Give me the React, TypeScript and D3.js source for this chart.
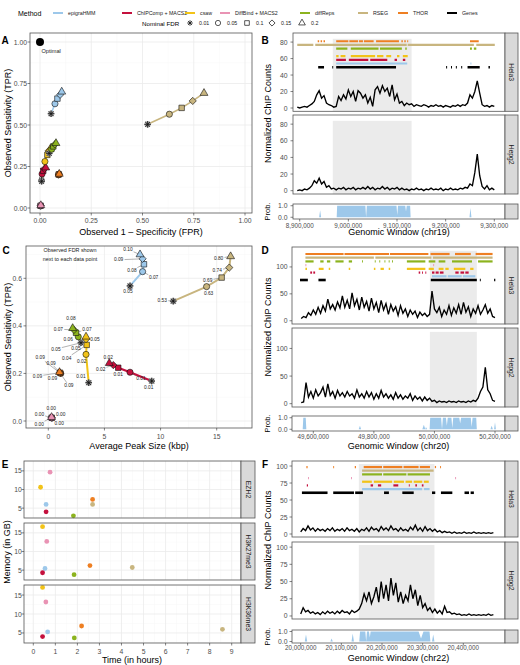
import React from 'react';
import * as d3 from 'd3';

const FONT = "'Liberation Sans', Arial, Helvetica, sans-serif";
const TICK_COL = '#4d4d4d';
const BORDER = '#555555';
const GRID_MAJ = '#ebebeb';
const GRID_MIN = '#f6f6f6';
const STRIP_FILL = '#d9d9d9';

// ---------- methods / legend ----------
const methodNames = ['epigraHMM', 'ChIPComp + MACS2', 'csaw', 'DiffBind + MACS2', 'diffReps', 'RSEG', 'THOR'];
const methodColors = ['#9dc8ea', '#c4103d', '#f2c318', '#e993b4', '#8cb31e', '#c8b57f', '#ee7f22'];
const fdrNominal = ['0.01', '0.05', '0.1', '0.15', '0.2'];
const fdrShapes = ['star', 'circle', 'square', 'diamond', 'triangle'];

// ---------- Panel A / C data (index = nominal FDR level) ----------
const fprByMethod = [
  [0.054, 0.073, 0.085, 0.098, 0.106],
  [0.008, 0.010, 0.016, 0.021, 0.028],
  [0.008, 0.024, 0.036, 0.042, 0.049],
  [0.002, 0.003, 0.003, 0.004, 0.004],
  [0.045, 0.057, 0.065, 0.072, 0.078],
  [0.525, 0.631, 0.691, 0.745, 0.800],
  [0.090, 0.091, 0.092, 0.093, 0.094],
];
const tprByMethod = [
  [0.568, 0.628, 0.659, 0.682, 0.700],
  [0.168, 0.205, 0.224, 0.235, 0.243],
  [0.161, 0.280, 0.320, 0.344, 0.354],
  [0.012, 0.013, 0.014, 0.015, 0.016],
  [0.329, 0.354, 0.371, 0.383, 0.390],
  [0.504, 0.565, 0.603, 0.645, 0.692],
  [0.199, 0.201, 0.203, 0.204, 0.205],
];
const peakSizeByMethod = [
  [7.28, 8.40, 8.52, 8.40, 8.17],
  [9.21, 7.28, 6.23, 5.79, 5.43],
  [3.60, 3.36, 3.42, 3.36, 3.36],
  [0.32, 0.31, 0.30, 0.30, 0.29],
  [2.91, 2.67, 2.47, 2.29, 2.17],
  [11.13, 14.10, 15.44, 16.12, 16.24],
  [1.12, 1.08, 1.05, 1.02, 1.00],
];
const observedFdrByMethod = [
  ['0.05', '0.07', '0.08', '0.09', '0.10'],
  ['0.01', '0.01', '0.01', '0.02', '0.02'],
  ['0.01', '0.02', '0.04', '0.05', '0.05'],
  ['0.00', '0.00', '0.00', '0.00', '0.00'],
  ['0.05', '0.06', '0.07', '0.07', '0.08'],
  ['0.53', '0.63', '0.69', '0.74', '0.80'],
  ['0.09', '0.09', '0.09', '0.09', '0.09'],
];
// layout: label offsets (px) for panel C
const fdrLabelOffsets = [
  [[-2, 6], [11, 6], [-12, 6], [-24, 1], [-12, -5]],
  [[-3, 6.3], [11, 6.7], [0, 6.6], [-12.6, 4], [-1, -6]],
  [[-7.7, -6], [-4.3, 7.4], [-20, 13.3], [-10, 9.4], [9, 2.3]],
  [[-0.7, -10], [-12.4, -3.7], [9, -2.7], [-12.4, 6.6], [7.6, 6.6]],
  [[-25, 6.3], [-10, 2.6], [11, -3.7], [-15.7, -0.7], [-1.7, -9.3]],
  [[-11, -1], [2, 7], [-14, 3], [-12, 3], [-12, 2]],
  [[-20.7, -16], [-9.3, -10], [-22.7, 3.4], [-7.3, 6], [9.3, 13.4]],
];

// ---------- Panel E data ----------
const facetNames = ['EZH2', 'H3K27me3', 'H3K36me3'];
const timeHours = [
  [0.58, 0.53, 0.65],
  [0.58, 0.42, 0.42],
  [0.33, 0.42, 0.42],
  [0.76, 0.61, 0.57],
  [1.82, 1.85, 1.86],
  [2.69, 4.49, 8.58],
  [2.69, 2.57, 2.19],
];
const memoryGB = [
  [6.0, 5.44, 5.26],
  [4.0, 4.3, 4.04],
  [10.6, 16.67, 17.0],
  [14.64, 12.7, 13.16],
  [2.93, 3.77, 3.68],
  [6.0, 5.7, 5.96],
  [7.34, 6.23, 6.84],
];

// ---------- Genomic windows (positions in kb) ----------
const signalB_Hela3 = [1, 0, 1, 2, 1, 3, 5, 8, 16, 21, 12, 15, 6, 4, 3, 1, 2, 14, 9, 16, 11, 22, 14, 20, 8, 21, 18, 12, 16, 6, 13, 2, 22, 26, 18, 27, 20, 24, 14, 28, 10, 17, 6, 8, 3, 6, 4, 5, 2, 4, 3, 2, 4, 3, 1, 3, 2, 4, 2, 3, 1, 3, 2, 1, 3, 2, 4, 2, 4, 3, 6, 16, 12, 20, 33, 18, 4, 2, 3, 1, 3, 2];
const signalB_Hepg2 = [0, 1, 0, 2, 1, 3, 6, 12, 9, 15, 8, 11, 4, 6, 2, 3, 1, 3, 2, 4, 1, 3, 2, 4, 1, 3, 2, 4, 2, 5, 2, 4, 1, 3, 2, 5, 2, 4, 1, 3, 2, 4, 1, 3, 1, 2, 0, 2, 1, 3, 1, 2, 0, 2, 1, 3, 1, 2, 1, 3, 0, 2, 1, 3, 1, 2, 1, 3, 2, 4, 3, 8, 6, 22, 44, 18, 5, 2, 6, 1, 3, 1];
const signalD_Hela3 = [4, 8, 6, 15, 10, 20, 12, 25, 14, 28, 18, 40, 22, 30, 20, 35, 24, 46, 25, 38, 22, 52, 28, 40, 20, 44, 25, 36, 18, 42, 22, 34, 15, 38, 20, 32, 12, 30, 18, 26, 10, 28, 14, 22, 8, 20, 12, 18, 6, 16, 10, 14, 8, 12, 55, 22, 15, 25, 8, 20, 12, 28, 10, 24, 14, 30, 12, 34, 16, 26, 8, 22, 14, 28, 12, 20, 30, 14, 22, 8, 6];
const signalD_Hepg2 = [2, 3, 38, 12, 22, 10, 25, 14, 20, 30, 12, 36, 15, 22, 10, 24, 14, 20, 12, 22, 14, 18, 10, 25, 12, 18, 10, 22, 12, 20, 8, 18, 10, 24, 12, 18, 10, 16, 8, 20, 10, 16, 8, 14, 10, 18, 6, 14, 8, 12, 5, 12, 6, 10, 4, 6, 2, 5, 3, 4, 2, 5, 3, 4, 2, 5, 3, 4, 2, 5, 3, 6, 4, 10, 22, 30, 66, 25, 18, 6, 4];
const signalF_Hela3 = [3, 8, 5, 12, 6, 9, 4, 8, 5, 7, 4, 8, 5, 9, 4, 7, 5, 8, 4, 9, 5, 7, 4, 8, 3, 7, 5, 9, 4, 10, 6, 8, 4, 11, 6, 9, 5, 12, 6, 8, 4, 9, 5, 7, 4, 10, 6, 13, 5, 9, 4, 11, 5, 8, 4, 7, 3, 5, 2, 4, 2, 3, 1, 3, 1, 2, 1, 3, 1, 2, 1, 3, 1, 2, 1, 2, 1, 2, 1, 2];
const signalF_Hepg2 = [3, 12, 6, 8, 4, 6, 3, 5, 2, 6, 3, 7, 4, 6, 3, 7, 4, 8, 5, 6, 3, 8, 5, 7, 10, 18, 32, 22, 35, 18, 28, 42, 20, 50, 25, 45, 22, 55, 30, 48, 20, 35, 18, 30, 22, 45, 25, 38, 15, 30, 12, 18, 8, 12, 5, 10, 4, 8, 3, 14, 5, 6, 3, 4, 2, 3, 1, 2, 1, 3, 1, 2, 1, 2, 1, 2, 1, 3, 1, 2];

const peaksB = [
  [[8975, 9121], [9251, 9252]],
  [[8975, 8995], [9001, 9041], [9045, 9080], [9095, 9100], [9112, 9117]],
  [[8975, 8980], [8984, 8994], [9005, 9055], [9059, 9072], [9078, 9088], [9100, 9105], [9112, 9122]],
  [],
  [[8975, 8998], [9005, 9062], [9065, 9110], [9117, 9120], [9250, 9254], [9258, 9263]],
  [[8895, 8928], [8932, 9120], [9122, 9258], [9263, 9301]],
  [[8937, 8940], [8943, 8946], [8949, 8952], [8975, 9000], [9002, 9020], [9022, 9030], [9032, 9052], [9057, 9104], [9109, 9112], [9115, 9118], [9121, 9123], [9250, 9268]],
];
const genesB = [[8938, 8950], [8967, 8968], [8975, 9098], [9201, 9203], [9211, 9213], [9221, 9223], [9232, 9234], [9245, 9270], [9288, 9291]];
const peaksD = [
  [[49992, 50040], [50044, 50090], [50094, 50135]],
  [[49590, 49596], [49600, 49606], [49948, 49953], [49959, 49962], [49970, 49973], [49992, 50000], [50004, 50014], [50018, 50030], [50069, 50080], [50086, 50098], [50102, 50113]],
  [[49574, 49579], [49618, 49634], [49651, 49656], [49717, 49722], [49800, 49805], [49822, 49833], [49849, 49854], [49909, 49970], [49981, 49998], [50014, 50030], [50036, 50047], [50064, 50102], [50118, 50129]],
  [[49574, 49577], [49996, 49998]],
  [[49574, 49601], [49623, 49634], [49645, 49656], [49673, 49700], [49717, 49728], [49761, 49764], [49803, 49806], [49818, 49821], [49835, 49838], [49849, 49852], [49860, 49863], [49909, 49970], [49981, 50003], [50014, 50036], [50058, 50124], [50144, 50192]],
  [[49574, 49800], [49805, 49990], [49995, 50192]],
  [[49574, 49700], [49703, 49850], [49853, 49980], [49987, 50050], [50068, 50120], [50136, 50192]],
];
const genesD = [[49556, 49582], [49617, 49641], [49988, 50140], [50150, 50153], [50197, 50201]];
const peaksF = [
  [[20151, 20299], [20303, 20317]],
  [[20015, 20018], [20172, 20178], [20190, 20198], [20228, 20240], [20266, 20268], [20282, 20286], [20298, 20302]],
  [[20151, 20175], [20180, 20225], [20229, 20254], [20258, 20274], [20278, 20299], [20303, 20315]],
  [[20018, 20020], [20124, 20126], [20380, 20382]],
  [[20151, 20200], [20203, 20260], [20263, 20318]],
  [[20151, 20327]],
  [[20014, 20017], [20080, 20082], [20133, 20136], [20155, 20200], [20203, 20250], [20253, 20290], [20293, 20318], [20330, 20333], [20343, 20345]],
];
const genesF = [[20003, 20066], [20080, 20131], [20134, 20153], [20205, 20217], [20250, 20278], [20323, 20331], [20345, 20373], [20403, 20414], [20418, 20426]];

const probPosB = [8895, 8940, 8942, 8944, 8976, 8977, 9035, 9036.5, 9038, 9099, 9100.5, 9102, 9117, 9118.5, 9120, 9127, 9128, 9249, 9251, 9253, 9301];
const probValB = [0, 0, 0.6, 0, 0, 1, 1, 0, 1, 1, 0.2, 1, 1, 0.5, 1, 1, 0, 0, 0.8, 0, 0];
const probPosD = [49560, 49565, 49567, 49575, 49577, 49750, 49754, 49758, 49960, 49965, 49970, 49972, 49976, 49984, 49986, 50022, 50025, 50028, 50038, 50041, 50044, 50056, 50059, 50062, 50082, 50085, 50088, 50120, 50123, 50126, 50138, 50140, 50185, 50189, 50193, 50197, 50200, 50203];
const probValD = [0, 0, 1, 1, 0, 0, 0.3, 0, 0, 0.4, 0, 0.2, 0, 0, 1, 1, 0, 1, 1, 0.3, 1, 1, 0.1, 1, 1, 0.5, 1, 1, 0.2, 1, 1, 0, 0, 0.3, 0, 0, 0.6, 0];
const probPosF = [20000, 20010, 20013, 20016, 20073, 20076, 20079, 20125, 20128, 20131, 20144, 20146, 20159, 20161, 20163, 20168, 20170, 20172, 20290, 20296, 20302, 20317, 20319, 20323, 20326, 20329, 20478];
const probValF = [0, 0, 0.7, 0, 0, 0.3, 0, 0, 0.8, 0, 0, 1, 1, 0, 1, 1, 0.4, 1, 1, 0.3, 1, 1, 0, 0, 0.7, 0, 0];

const genomeTicksB = [8900, 9000, 9100, 9200, 9300];
const genomeTicksD = [49600, 49800, 50000, 50200];
const genomeTicksF = [20000, 20100, 20200, 20300, 20400];

// ---------- helpers ----------
function Marker({ kind, x, y, fill, hollow = false, k = 1 }: any) {
  const t = `translate(${x},${y})`;
  if (kind === 'star') {
    const r = 3.3 * k, d = r * 0.72;
    const p = `M${-r},0L${r},0M0,${-r}L0,${r}M${-d},${-d}L${d},${d}M${-d},${d}L${d},${-d}`;
    return (
      <g transform={t}>
        {!hollow && <path d={p} stroke="#9a9a9a" strokeWidth={1.8} />}
        <path d={p} stroke="#111" strokeWidth={0.8} />
      </g>
    );
  }
  let type: any = d3.symbolCircle, size = 30, rot = 0;
  if (kind === 'square') { type = d3.symbolSquare; size = 30; }
  if (kind === 'diamond') { type = d3.symbolSquare; size = 26; rot = 45; }
  if (kind === 'triangle') { type = d3.symbolTriangle; size = 27; }
  const p = d3.symbol(type, size * k * k)() as string;
  return (
    <path d={p} transform={`${t} rotate(${rot})`} fill={hollow ? 'none' : fill}
      stroke="#111" strokeWidth={hollow ? 0.7 : 0.6} />
  );
}

function Txt({ x, y, children, size = 7, anchor = 'middle', color = TICK_COL, rotate = 0, weight = 'normal' }: any) {
  return (
    <text x={0} y={0} transform={`translate(${x},${y}) rotate(${rotate})`} fontSize={size} textAnchor={anchor}
      dominantBaseline="central" fill={color} fontFamily={FONT} fontWeight={weight}>{children}</text>
  );
}

function Box({ x0, x1, y0, y1 }: any) {
  return <rect x={x0} y={y0} width={x1 - x0} height={y1 - y0} fill="none" stroke={BORDER} strokeWidth={0.8} />;
}

function Strip({ x0, x1, y0, y1, label }: any) {
  return (
    <g>
      <rect x={x0} y={y0} width={x1 - x0} height={y1 - y0} fill={STRIP_FILL} stroke={BORDER} strokeWidth={0.8} />
      {label && <Txt x={(x0 + x1) / 2} y={(y0 + y1) / 2} rotate={90} size={6.8} color="#1a1a1a">{label}</Txt>}
    </g>
  );
}

function Legend() {
  const swX = [53, 122, 185, 220, 300, 358, 398, 447];
  const labels = [...methodNames, 'Genes'];
  const cols = [...methodColors, '#000'];
  const shX = [190, 218, 247, 272, 302];
  return (
    <g>
      <Txt x={18} y={13} anchor="start" size={7} color="#000">Method</Txt>
      {labels.map((l, i) => (
        <g key={l}>
          <line x1={swX[i]} x2={swX[i] + 10} y1={13} y2={13} stroke={cols[i]} strokeWidth={2} />
          <Txt x={swX[i] + 15} y={13} anchor="start" size={5.3} color="#222">{l}</Txt>
        </g>
      ))}
      <Txt x={142} y={23} anchor="start" size={6.2} color="#000">Nominal FDR</Txt>
      {fdrNominal.map((f, i) => (
        <g key={f}>
          <Marker kind={fdrShapes[i]} x={shX[i]} y={23} hollow k={0.85} />
          <Txt x={shX[i] + 9} y={23} anchor="start" size={5.3} color="#222">{f}</Txt>
        </g>
      ))}
    </g>
  );
}

function gridLines(scale: any, values: number[], orient: 'v' | 'h', a: number, b: number, col: string, w: number) {
  return values.map((v, i) => orient === 'v'
    ? <line key={`${orient}${i}${col}`} x1={scale(v)} x2={scale(v)} y1={a} y2={b} stroke={col} strokeWidth={w} />
    : <line key={`${orient}${i}${col}`} y1={scale(v)} y2={scale(v)} x1={a} x2={b} stroke={col} strokeWidth={w} />);
}

function PanelA() {
  const box = { x0: 30, x1: 252, y0: 33, y1: 213 };
  const x = d3.scaleLinear().domain([0, 1]).range([40, 245]);
  const y = d3.scaleLinear().domain([0, 1]).range([208, 42]);
  const ticks = [0, 0.25, 0.5, 0.75, 1];
  const minor = [0.125, 0.375, 0.625, 0.875];
  const fmt = d3.format('.2f');
  return (
    <g>
      <rect x={box.x0} y={box.y0} width={box.x1 - box.x0} height={box.y1 - box.y0} fill="#fff" />
      {gridLines(x, minor, 'v', box.y0, box.y1, GRID_MIN, 0.5)}
      {gridLines(y, minor, 'h', box.x0, box.x1, GRID_MIN, 0.5)}
      {gridLines(x, ticks, 'v', box.y0, box.y1, GRID_MAJ, 0.8)}
      {gridLines(y, ticks, 'h', box.x0, box.x1, GRID_MAJ, 0.8)}
      {methodNames.map((m, mi) => {
        const pts = fprByMethod[mi].map((f, i) => [x(f), y(tprByMethod[mi][i])] as [number, number]);
        return <path key={m} d={d3.line()(pts) as string} stroke={methodColors[mi]} strokeWidth={1.6} fill="none" />;
      })}
      {methodNames.map((m, mi) => fprByMethod[mi].map((f, i) => (
        <Marker key={`${m}${i}`} kind={fdrShapes[i]} x={x(f)} y={y(tprByMethod[mi][i])} fill={methodColors[mi]} />
      )))}
      <circle cx={x(0)} cy={y(1)} r={4} fill="#000" />
      <Txt x={x(0) + 1.5} y={y(1) + 9} anchor="start" size={5.6} color="#222">Optimal</Txt>
      <Box {...box} />
      {ticks.map(t => (
        <g key={t}>
          <line x1={x(t)} x2={x(t)} y1={box.y1} y2={box.y1 + 2.5} stroke="#333" strokeWidth={0.6} />
          <Txt x={x(t)} y={220.7} size={6.8}>{fmt(t)}</Txt>
          <line y1={y(t)} y2={y(t)} x1={box.x0 - 2.5} x2={box.x0} stroke="#333" strokeWidth={0.6} />
          <Txt x={27} y={y(t)} anchor="end" size={6.8}>{fmt(t)}</Txt>
        </g>
      ))}
      <Txt x={141} y={232} size={9} color="#000">Observed 1 – Specificity (FPR)</Txt>
      <Txt x={7.5} y={123} rotate={-90} size={9} color="#000">Observed Sensitivity (TPR)</Txt>
      <Txt x={5} y={40} size={10} weight="bold" color="#000">A</Txt>
    </g>
  );
}

function PanelC() {
  const box = { x0: 26, x1: 252, y0: 246, y1: 428 };
  const x = d3.scaleLinear().domain([0, 15]).range([48.3, 216.7]);
  const y = d3.scaleLinear().domain([0, 0.6]).range([421, 278.3]);
  const xt = [0, 5, 10, 15], xm = [2.5, 7.5, 12.5, 17.5];
  const yt = [0, 0.2, 0.4, 0.6], ym = [0.1, 0.3, 0.5, 0.7];
  return (
    <g>
      <rect x={box.x0} y={box.y0} width={box.x1 - box.x0} height={box.y1 - box.y0} fill="#fff" />
      <clipPath id="clipC"><rect x={box.x0} y={box.y0} width={box.x1 - box.x0} height={box.y1 - box.y0} /></clipPath>
      <g clipPath="url(#clipC)">
        {gridLines(x, xm, 'v', box.y0, box.y1, GRID_MIN, 0.5)}
        {gridLines(y, ym, 'h', box.x0, box.x1, GRID_MIN, 0.5)}
        {gridLines(x, xt, 'v', box.y0, box.y1, GRID_MAJ, 0.8)}
        {gridLines(y, yt, 'h', box.x0, box.x1, GRID_MAJ, 0.8)}
      </g>
      {methodNames.map((m, mi) => {
        const pts = peakSizeByMethod[mi].map((s, i) => [x(s), y(tprByMethod[mi][i])] as [number, number]);
        return <path key={m} d={d3.line()(pts) as string} stroke={methodColors[mi]} strokeWidth={2} fill="none" />;
      })}
      {methodNames.map((m, mi) => peakSizeByMethod[mi].map((s, i) => {
        const px = x(s), py = y(tprByMethod[mi][i]);
        const [dx, dy] = fdrLabelOffsets[mi][i];
        const dist = Math.hypot(dx, dy);
        let leader = null;
        if (dist > 11) {
          const ux = dx / dist, uy = dy / dist;
          const stop = Math.abs(dx) > Math.abs(dy) ? 6 : 3.5;
          leader = <line x1={px} y1={py} x2={px + dx - ux * stop} y2={py + dy - uy * stop} stroke="#555" strokeWidth={0.45} />;
        }
        return <g key={`${m}l${i}`}>{leader}</g>;
      }))}
      {methodNames.map((m, mi) => peakSizeByMethod[mi].map((s, i) => (
        <Marker key={`${m}${i}`} kind={fdrShapes[i]} x={x(s)} y={y(tprByMethod[mi][i])} fill={methodColors[mi]} />
      )))}
      {methodNames.map((m, mi) => peakSizeByMethod[mi].map((s, i) => {
        const [dx, dy] = fdrLabelOffsets[mi][i];
        return <Txt key={`${m}t${i}`} x={x(s) + dx} y={y(tprByMethod[mi][i]) + dy} size={4.8} color="#222">{observedFdrByMethod[mi][i]}</Txt>;
      }))}
      <Txt x={70} y={250} size={5.4} color="#222">Observed FDR shown</Txt>
      <Txt x={70} y={258.5} size={5.4} color="#222">next to each data point</Txt>
      <Box {...box} />
      {xt.map(t => (
        <g key={t}>
          <line x1={x(t)} x2={x(t)} y1={box.y1} y2={box.y1 + 2.5} stroke="#333" strokeWidth={0.6} />
          <Txt x={x(t)} y={436} size={6.8}>{t}</Txt>
        </g>
      ))}
      {yt.map(t => (
        <g key={t}>
          <line y1={y(t)} y2={y(t)} x1={box.x0 - 2.5} x2={box.x0} stroke="#333" strokeWidth={0.6} />
          <Txt x={22} y={y(t)} anchor="end" size={6.8}>{d3.format('.1f')(t)}</Txt>
        </g>
      ))}
      <Txt x={139} y={446} size={9} color="#000">Average Peak Size (kbp)</Txt>
      <Txt x={7.5} y={337} rotate={-90} size={9} color="#000">Observed Sensitivity (TPR)</Txt>
      <Txt x={6} y={250} size={10} weight="bold" color="#000">C</Txt>
    </g>
  );
}

function PanelE() {
  const x0 = 24, x1 = 241;
  const facetY = [[461, 518], [523, 580], [585, 643]];
  const x = d3.scaleLinear().domain([0, 9]).range([33.3, 231.7]);
  const xt = d3.range(0, 10);
  const xm = d3.range(0, 10).map(v => v + 0.5).concat([-0.5]);
  return (
    <g>
      {facetNames.map((f, fi) => {
        const [y0, y1] = facetY[fi];
        const y = d3.scaleLinear().domain([2.35, 17.65]).range([y1, y0]);
        return (
          <g key={f}>
            <rect x={x0} y={y0} width={x1 - x0} height={y1 - y0} fill="#fff" />
            <clipPath id={`clipE${fi}`}><rect x={x0} y={y0} width={x1 - x0} height={y1 - y0} /></clipPath>
            <g clipPath={`url(#clipE${fi})`}>
              {gridLines(x, xm, 'v', y0, y1, GRID_MIN, 0.5)}
              {gridLines(y, [2.5, 7.5, 12.5, 17.5], 'h', x0, x1, GRID_MIN, 0.5)}
              {gridLines(x, xt, 'v', y0, y1, GRID_MAJ, 0.8)}
              {gridLines(y, [5, 10, 15], 'h', x0, x1, GRID_MAJ, 0.8)}
            </g>
            {methodNames.map((m, mi) => (
              <circle key={m} cx={x(timeHours[mi][fi])} cy={y(memoryGB[mi][fi])} r={2.4} fill={methodColors[mi]} />
            ))}
            <Box x0={x0} x1={x1} y0={y0} y1={y1} />
            <Strip x0={x1} x1={255} y0={y0} y1={y1} label={f} />
            {[5, 10, 15].map(t => (
              <g key={t}>
                <line y1={y(t)} y2={y(t)} x1={x0 - 2.5} x2={x0} stroke="#333" strokeWidth={0.6} />
                <Txt x={21.7} y={y(t)} anchor="end" size={6.8}>{t}</Txt>
              </g>
            ))}
          </g>
        );
      })}
      {xt.map(t => (
        <g key={t}>
          <line x1={x(t)} x2={x(t)} y1={643} y2={645.5} stroke="#333" strokeWidth={0.6} />
          <Txt x={x(t)} y={651.7} size={6.8}>{t}</Txt>
        </g>
      ))}
      <Txt x={132} y={660} size={9} color="#000">Time (in hours)</Txt>
      <Txt x={7} y={552} rotate={-90} size={9} color="#000">Memory (in GB)</Txt>
      <Txt x={5} y={464} size={10} weight="bold" color="#000">E</Txt>
    </g>
  );
}

function GenomePanel({ cfg }: any) {
  const [px0, px1] = cfg.panelX;
  const x = d3.scaleLinear().domain(cfg.xDomain).range(cfg.xRange);
  const tracks = [
    { name: 'Hela3', yr: cfg.helaY, sig: cfg.hela, showPeaks: true },
    { name: 'Hepg2', yr: cfg.hepgY, sig: cfg.hepg, showPeaks: false },
  ];
  const rowOrder = [6, 5, 4, 3, 2, 1, 0]; // top to bottom
  const [gs, ge] = cfg.gray;
  const fmt = d3.format(',');
  const [py0, py1] = cfg.probY;
  const yp = d3.scaleLinear().domain([-0.15, 1.15]).range([py1, py0]);
  const probArea = d3.area<number>().x((_, i) => x(cfg.probPos[i])).y0(yp(0)).y1(v => yp(v));
  return (
    <g>
      {tracks.map((tr, ti) => {
        const [y0, y1] = tr.yr;
        const y = d3.scaleLinear().domain(cfg.yDomain).range([y1, y0]);
        const line = d3.line<number>().x((_, i) => x(cfg.sigStart + i * cfg.sigStep)).y(v => y(v));
        const cid = `clip${cfg.letter}${ti}`;
        return (
          <g key={tr.name}>
            <rect x={px0} y={y0} width={px1 - px0} height={y1 - y0} fill="#fff" />
            <clipPath id={cid}><rect x={px0} y={y0} width={px1 - px0} height={y1 - y0} /></clipPath>
            <g clipPath={`url(#${cid})`}>
              <rect x={x(gs)} width={x(ge) - x(gs)} y={y(cfg.grayMax)} height={y1 - y(cfg.grayMax)} fill="#ebebeb" />
              {tr.showPeaks && rowOrder.map((mi, ri) => {
                const yy = y(cfg.rowTop - ri * cfg.rowStep);
                return cfg.peaks[mi].map((iv: number[], k: number) => (
                  <line key={`${mi}-${k}`} x1={x(iv[0])} x2={Math.max(x(iv[1]), x(iv[0]) + 0.9)} y1={yy} y2={yy}
                    stroke={methodColors[mi]} strokeWidth={2.2} />
                ));
              })}
              {tr.showPeaks && cfg.genes.map((iv: number[], k: number) => {
                const yy = y(cfg.rowTop - 7 * cfg.rowStep);
                return <line key={`g${k}`} x1={x(iv[0])} x2={Math.max(x(iv[1]), x(iv[0]) + 0.9)} y1={yy} y2={yy} stroke="#000" strokeWidth={2.6} />;
              })}
              <path d={line(tr.sig) as string} fill="none" stroke="#000" strokeWidth={1.35} strokeLinejoin="miter" />
            </g>
            <Box x0={px0} x1={px1} y0={y0} y1={y1} />
            <Strip x0={px1} x1={518} y0={y0} y1={y1} label={tr.name} />
            {cfg.yTicks.map((t: number) => (
              <g key={t}>
                <line y1={y(t)} y2={y(t)} x1={px0 - 2.5} x2={px0} stroke="#333" strokeWidth={0.6} />
                <Txt x={287.5} y={y(t)} anchor="end" size={6.8}>{t}</Txt>
              </g>
            ))}
          </g>
        );
      })}
      <rect x={px0} y={py0} width={px1 - px0} height={py1 - py0} fill="#fff" />
      <clipPath id={`clipP${cfg.letter}`}><rect x={px0} y={py0} width={px1 - px0} height={py1 - py0} /></clipPath>
      <path d={probArea(cfg.probVal) as string} fill="#9dc8ea" clipPath={`url(#clipP${cfg.letter})`} />
      <Box x0={px0} x1={px1} y0={py0} y1={py1} />
      <Strip x0={px1} x1={518} y0={py0} y1={py1} label={null} />
      {[0, 1].map(t => (
        <g key={t}>
          <line y1={yp(t)} y2={yp(t)} x1={px0 - 2.5} x2={px0} stroke="#333" strokeWidth={0.6} />
          <Txt x={287.5} y={yp(t)} anchor="end" size={6.8}>{d3.format('.1f')(t)}</Txt>
        </g>
      ))}
      {cfg.xTicks.map((t: number) => (
        <g key={t}>
          <line x1={x(t)} x2={x(t)} y1={py1} y2={py1 + 2.5} stroke="#333" strokeWidth={0.6} />
          <Txt x={x(t)} y={cfg.tickLabelY} size={6.3}>{fmt(t * 1000)}</Txt>
        </g>
      ))}
      <Txt x={(px0 + px1) / 2} y={cfg.titleY} size={9} color="#000">{`Genomic Window (${cfg.chr})`}</Txt>
      <Txt x={267.5} y={(cfg.helaY[0] + cfg.hepgY[1]) / 2} rotate={-90} size={9} color="#000">Normalized ChIP Counts</Txt>
      <Txt x={267.5} y={(py0 + py1) / 2} rotate={-90} size={7.5} color="#000">Prob.</Txt>
      <Txt x={265} y={cfg.letterY} size={10} weight="bold" color="#000">{cfg.letter}</Txt>
    </g>
  );
}

const cfgB = {
  letter: 'B', letterY: 40, chr: 'chr19', panelX: [293, 505], xDomain: [8900, 9300], xRange: [299.7, 494.3],
  helaY: [33, 111.3], hepgY: [115, 194], probY: [204, 219], yDomain: [-4, 91], yTicks: [0, 20, 40, 60, 80],
  rowTop: 81, rowStep: 4.5, grayMax: 84, gray: [8968, 9130], sigStart: 8895, sigStep: 5,
  hela: signalB_Hela3, hepg: signalB_Hepg2, peaks: peaksB, genes: genesB,
  probPos: probPosB, probVal: probValB, xTicks: genomeTicksB, tickLabelY: 225, titleY: 232,
};
const cfgD = {
  letter: 'D', letterY: 250, chr: 'chr20', panelX: [292, 505], xDomain: [49600, 50200], xRange: [313.3, 495],
  helaY: [247, 324], hepgY: [328, 407], probY: [416, 431], yDomain: [-6, 137], yTicks: [0, 50, 100],
  rowTop: 124, rowStep: 6.9, grayMax: 130, gray: [49985, 50140], sigStart: 49560, sigStep: 8,
  hela: signalD_Hela3, hepg: signalD_Hepg2, peaks: peaksD, genes: genesD,
  probPos: probPosD, probVal: probValD, xTicks: genomeTicksD, tickLabelY: 436, titleY: 446,
};
const cfgF = {
  letter: 'F', letterY: 464, chr: 'chr22', panelX: [292, 505], xDomain: [20000, 20400], xRange: [300.7, 463.3],
  helaY: [461, 537], hepgY: [542, 619], probY: [630, 643], yDomain: [-4.4, 107.4], yTicks: [0, 25, 50, 75, 100],
  rowTop: 98.5, rowStep: 5.4, grayMax: 103, gray: [20143, 20329], sigStart: 20000, sigStep: 6,
  hela: signalF_Hela3, hepg: signalF_Hepg2, peaks: peaksF, genes: genesF,
  probPos: probPosF, probVal: probValF, xTicks: genomeTicksF, tickLabelY: 647.7, titleY: 658.3,
};

export default function App() {
  return (
    <svg width={520} height={665} style={{ position: 'absolute', left: 0, top: 0, background: '#fff' }}
      xmlns="http://www.w3.org/2000/svg">
      <rect x={0} y={0} width={520} height={665} fill="#fff" />
      <Legend />
      <PanelA />
      <PanelC />
      <PanelE />
      <GenomePanel cfg={cfgB} />
      <GenomePanel cfg={cfgD} />
      <GenomePanel cfg={cfgF} />
    </svg>
  );
}
